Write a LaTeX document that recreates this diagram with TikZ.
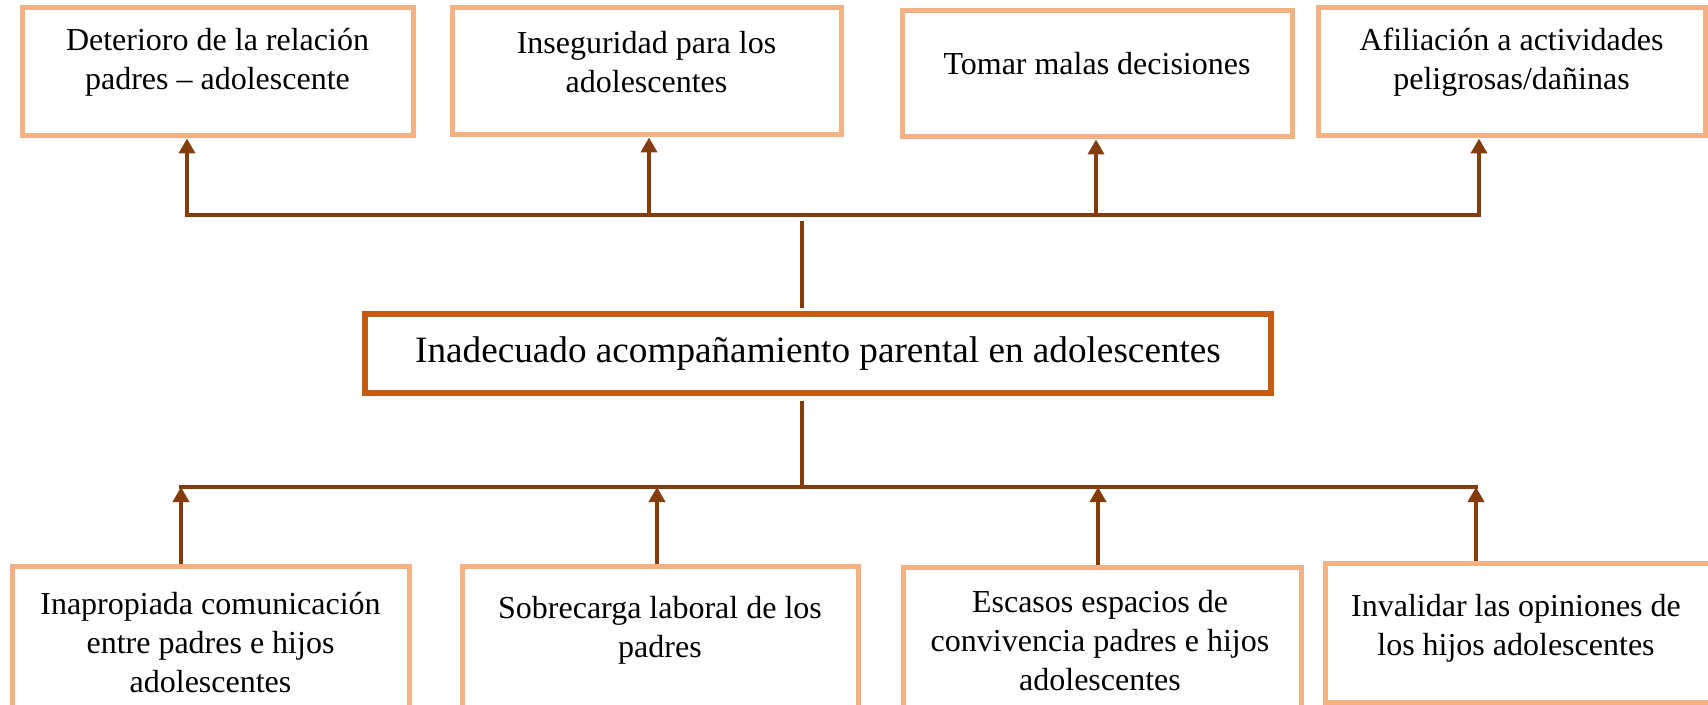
\documentclass[tikz,border=0pt]{standalone}
\usepackage{fontspec}
\setmainfont{Liberation Serif}
\usetikzlibrary{arrows.meta}
\definecolor{lightor}{HTML}{F4B183}
\definecolor{darkor}{HTML}{C55A11}
\definecolor{brownc}{HTML}{843C0C}
\begin{document}
\begin{tikzpicture}[x=0.5pt,y=-0.5pt,
  effbox/.style={draw=lightor, line width=2.5pt, fill=white, inner sep=0pt},
  corebox/.style={draw=darkor, line width=2.75pt, fill=white, inner sep=0pt,
    font=\fontsize{18.6}{22}\selectfont},
  txt/.style={align=center, font=\fontsize{16}{19.5}\selectfont, inner sep=0pt},
  conn/.style={draw=brownc, line width=2pt},
  hconn/.style={conn, line cap=rect},
  arr/.style={conn, -{Triangle[length=7.5pt,width=8pt]}}
]
\useasboundingbox (0,0) rectangle (1708,705);
\clip (0,0) rectangle (1708,705);

% effects (top row)
\node[effbox, minimum width=195.5pt, minimum height=64pt] (e1) at (217.5,72) {};
\node[txt] (e1t) at (217.5,62.5) {Deterioro de la relación\\padres – adolescente};
\node[effbox, minimum width=194.5pt, minimum height=63.5pt] (e2) at (646.5,71.5) {};
\node[txt] (e2t) at (646.5,62.5) {Inseguridad para los\\adolescentes};
\node[effbox, minimum width=195pt, minimum height=63pt] (e3) at (1097,74) {};
\node[txt] (e3t) at (1097,63.5) {Tomar malas decisiones};
\node[effbox, minimum width=193.5pt, minimum height=64pt] (e4) at (1511.5,72) {};
\node[txt] (e4t) at (1511.5,62.5) {Afiliación a actividades\\peligrosas/dañinas};

% central problem
\node[corebox, minimum width=453pt, minimum height=39.5pt] (m) at (818,353.5)
  {Inadecuado acompañamiento parental en adolescentes};

% causes (bottom row)
\node[effbox, minimum width=198.5pt, minimum height=73pt] (c1) at (210.5,639) {};
\node[txt] (c1t) at (210.5,643) {Inapropiada comunicación\\entre padres e hijos\\adolescentes};
\node[effbox, minimum width=198pt, minimum height=73pt] (c2) at (660,639) {};
\node[txt] (c2t) at (660,630.5) {Sobrecarga laboral de los\\padres};
\node[effbox, minimum width=199pt, minimum height=72.5pt] (c3) at (1102,639.5) {};
\node[txt] (c3t) at (1100,640.5) {Escasos espacios de\\convivencia padres e hijos\\adolescentes};
\node[effbox, minimum width=193.5pt, minimum height=69.5pt] (c4) at (1518.5,632.5) {};
\node[txt] (c4t) at (1516,628) {Invalidar las opiniones de\\los hijos adolescentes};

% upper connectors
\coordinate (tl) at (187,215);
\coordinate (t2) at (649,215);
\coordinate (t3) at (1096,215);
\coordinate (tr) at (1479,215);
\draw[hconn] (tl) -- (tr);
\draw[arr] (tl) -- (tl |- e1.south);
\draw[arr] (t2) -- (t2 |- e2.south);
\draw[arr] (t3) -- (t3 |- e3.south);
\draw[arr] (tr) -- (tr |- e4.south);
\coordinate (mu1) at (802,221);
\coordinate (mu2) at (802,308);
\draw[conn] (mu1) -- (mu2);

% lower connectors
\coordinate (md1) at (802,401);
\coordinate (md2) at (802,487);
\draw[conn] (md1) -- (md2);
\coordinate (bl) at (181,487);
\coordinate (b2) at (657,487);
\coordinate (b3) at (1098,487);
\coordinate (br) at (1476,487);
\draw[hconn] (bl) -- (br);
\draw[arr] (bl |- c1.north) -- (bl);
\draw[arr] (b2 |- c2.north) -- (b2);
\draw[arr] (b3 |- c3.north) -- (b3);
\draw[arr] (br |- c4.north) -- (br);
\end{tikzpicture}
\end{document}
